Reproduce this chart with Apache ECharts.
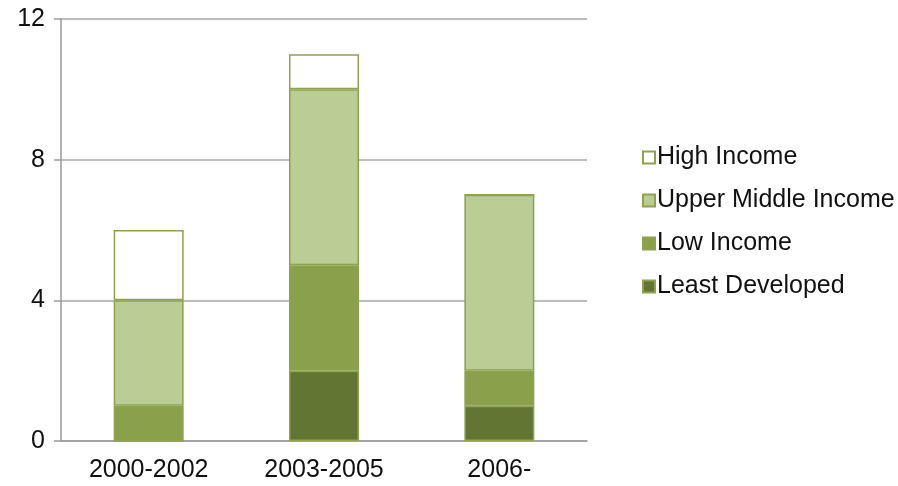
<!DOCTYPE html>
<html><head><meta charset="utf-8">
<script src="https://cdn.jsdelivr.net/npm/echarts@6/dist/echarts.min.js"></script>
<style>html,body{margin:0;padding:0;background:#fff}#c{width:898px;height:486px}</style>
</head><body><div id="c"></div>
<script>
const categories = ['2000-2002', '2003-2005', '2006-'];
const leastDeveloped = [0, 2, 1];
const lowIncome = [1, 3, 1];
const upperMiddleIncome = [3, 5, 5];
const highIncome = [2, 1, 0];
const yTicks = [0, 4, 8, 12];

const font = 'Liberation Sans, Arial, sans-serif';
const border = '#8ea24f';
function s(name, data, color) {
  return {
    name, type: 'bar', stack: 'total', data, barWidth: 70,
    itemStyle: { color, borderColor: border, borderWidth: 1.5 },
    emphasis: { disabled: true }
  };
}
const chart = echarts.init(document.getElementById('c'));
chart.setOption({
  animation: false,
  grid: { left: 61, top: 19, right: 311, bottom: 45 },
  legend: {
    orient: 'vertical', left: 637, top: 140,
    itemWidth: 12, itemHeight: 12, itemGap: 18,
    icon: 'rect',
    textStyle: { fontFamily: font, fontSize: 25, color: '#111', padding: [0, 0, 0, -3] },
    data: ['High Income', 'Upper Middle Income', 'Low Income', 'Least Developed']
  },
  xAxis: {
    type: 'category', data: categories,
    axisLine: { lineStyle: { color: '#9a9a9a', width: 1.5 } },
    axisTick: { show: false },
    axisLabel: { fontFamily: font, fontSize: 25, color: '#111', margin: 17 }
  },
  yAxis: {
    type: 'value', min: 0, max: 12, interval: 4,
    axisLine: { show: true, lineStyle: { color: '#9a9a9a', width: 1.5 } },
    axisTick: { show: true, length: 7, lineStyle: { color: '#9a9a9a', width: 1.5 } },
    splitLine: { lineStyle: { color: '#a6a6a6', width: 1.5 } },
    axisLabel: { fontFamily: font, fontSize: 25, color: '#111', margin: 16,
      formatter: v => yTicks.includes(v) ? String(v) : '' }
  },
  series: [
    s('Least Developed', leastDeveloped, '#637533'),
    s('Low Income', lowIncome, '#8aa04a'),
    s('Upper Middle Income', upperMiddleIncome, '#bacd94'),
    s('High Income', highIncome, '#ffffff')
  ]
});
</script></body></html>
